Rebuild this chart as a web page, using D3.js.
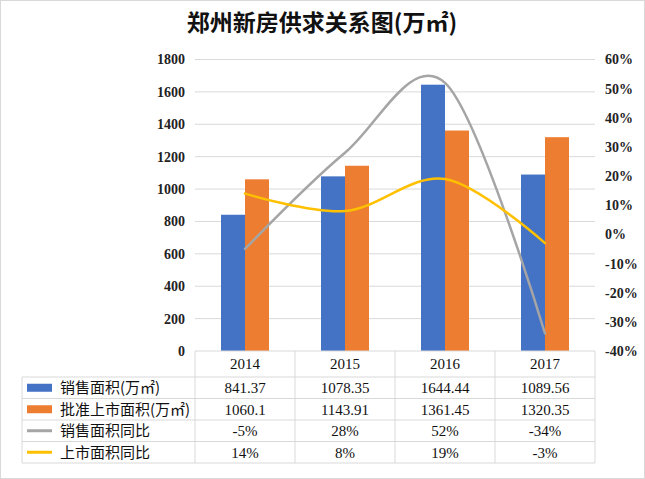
<!DOCTYPE html>
<html><head><meta charset="utf-8">
<script src="https://cdn.jsdelivr.net/npm/d3@7"></script>
<style>body{margin:0;background:#fff}svg{display:block}</style>
</head><body><div id="chart"></div>
<script>
const years = ["2014","2015","2016","2017"];
const sales = [841.37, 1078.35, 1644.44, 1089.56];
const supply = [1060.1, 1143.91, 1361.45, 1320.35];
const salesYoY = [-5, 28, 52, -34];
const supplyYoY = [14, 8, 19, -3];
const leftTicks = [0,200,400,600,800,1000,1200,1400,1600,1800];
const rightTicks = [-40,-30,-20,-10,0,10,20,30,40,50,60];
const seriesNames = ["销售面积(万㎡)","批准上市面积(万㎡)","销售面积同比","上市面积同比"];
const title = "郑州新房供求关系图(万㎡)";

const W=645,H=479;
const colors={sales:"#4472C4",supply:"#ED7D31",salesYoY:"#A5A5A5",supplyYoY:"#FFC000"};
const grid="#D9D9D9";
const numFont='"Liberation Serif", serif';
const cjkFont='"Noto Sans CJK SC", sans-serif';

const svg=d3.select("#chart").append("svg").attr("width",W).attr("height",H);
svg.append("rect").attr("x",0.5).attr("y",0.5).attr("width",W-1).attr("height",H-1).attr("fill","#fff").attr("stroke",grid);

svg.append("text").attr("x",322).attr("y",31).attr("text-anchor","middle")
  .attr("font-family",cjkFont).attr("font-size",23).attr("font-weight","bold").attr("fill","#111").text(title);

const x=d3.scaleBand().domain(years).range([195,595]).padding(0);
const x1=d3.scaleBand().domain(["sales","supply"]).range([0,x.bandwidth()]).paddingInner(0).paddingOuter(1.0833);
const y=d3.scaleLinear().domain([0,1800]).range([351,59.5]);
const y2=d3.scaleLinear().domain([-40,60]).range([351,59.5]);

// gridlines
svg.append("g").selectAll("line").data(leftTicks.slice(1)).join("line")
  .attr("x1",195).attr("x2",595).attr("y1",d=>y(d)).attr("y2",d=>y(d)).attr("stroke",grid).attr("stroke-width",1);

// left axis
const ly=d3.axisLeft(y).tickValues(leftTicks).tickSize(0).tickPadding(0).tickFormat(d3.format("d"));
const gl=svg.append("g").attr("transform","translate(185,0)").call(ly);
gl.select(".domain").remove();
gl.selectAll("text").attr("font-family",numFont).attr("font-size",14).attr("font-weight","bold").attr("fill","#222");

const ry=d3.axisRight(y2).tickValues(rightTicks).tickSize(0).tickPadding(0).tickFormat(d=>(d<0?"-":"")+Math.abs(d)+"%");
const gr=svg.append("g").attr("transform","translate(605,0)").call(ry);
gr.select(".domain").remove();
gr.selectAll("text").attr("font-family",numFont).attr("font-size",14).attr("font-weight","bold").attr("fill","#222");

// bars
const data=years.map((yr,i)=>({yr,sales:sales[i],supply:supply[i]}));
const bg=svg.append("g");
["sales","supply"].forEach(k=>{
  bg.selectAll("rect."+k).data(data).join("rect").attr("class",k)
    .attr("x",d=>x(d.yr)+x1(k)).attr("width",x1.bandwidth())
    .attr("y",d=>y(d[k])).attr("height",d=>y(0)-y(d[k])).attr("fill",colors[k]);
});

// lines
const line=d3.line().curve(d3.curveCardinal.tension(0));
[["salesYoY",salesYoY],["supplyYoY",supplyYoY]].forEach(([k,arr])=>{
  svg.append("path").attr("d",line(arr.map((v,i)=>[x(years[i])+x.bandwidth()/2,y2(v)])))
    .attr("fill","none").attr("stroke",colors[k]).attr("stroke-width",2.5).attr("stroke-linecap","round");
});

// table
const rows=[351,377,398.5,420,441.5,463];
const tl=22;
const tg=svg.append("g");
tg.append("line").attr("x1",195).attr("x2",595).attr("y1",351).attr("y2",351).attr("stroke",grid);
rows.slice(1).forEach(r=>tg.append("line").attr("x1",tl).attr("x2",595).attr("y1",r).attr("y2",r).attr("stroke",grid));
tg.append("line").attr("x1",tl).attr("x2",tl).attr("y1",377).attr("y2",463).attr("stroke",grid);
const bounds=years.map(yr=>x(yr)).concat([x(years[years.length-1])+x.bandwidth()]);
bounds.forEach(b=>tg.append("line").attr("x1",b).attr("x2",b).attr("y1",351).attr("y2",463).attr("stroke",grid));

const cell=(txt,cx,r)=>tg.append("text").attr("x",cx).attr("y",(rows[r]+rows[r+1])/2).attr("dy","0.36em")
  .attr("text-anchor","middle").attr("font-family",numFont).attr("font-size",15).attr("fill","#111").text(txt);
years.forEach((yr,i)=>{
  const cx=x(yr)+x.bandwidth()/2;
  cell(yr,cx,0);
  cell(String(sales[i]),cx,1);
  cell(String(supply[i]),cx,2);
  cell(salesYoY[i]+"%",cx,3);
  cell(supplyYoY[i]+"%",cx,4);
});
const keys=["sales","supply","salesYoY","supplyYoY"];
keys.forEach((k,i)=>{
  const cy=(rows[i+1]+rows[i+2])/2;
  if(i<2) tg.append("rect").attr("x",27).attr("y",cy-4).attr("width",25).attr("height",8).attr("fill",colors[k]);
  else tg.append("line").attr("x1",27).attr("x2",52).attr("y1",cy).attr("y2",cy).attr("stroke",colors[k]).attr("stroke-width",3);
  tg.append("text").attr("x",60).attr("y",cy).attr("dy","0.36em").attr("font-family",cjkFont).attr("font-size",15).attr("fill","#111").text(seriesNames[i]);
});
</script></body></html>
